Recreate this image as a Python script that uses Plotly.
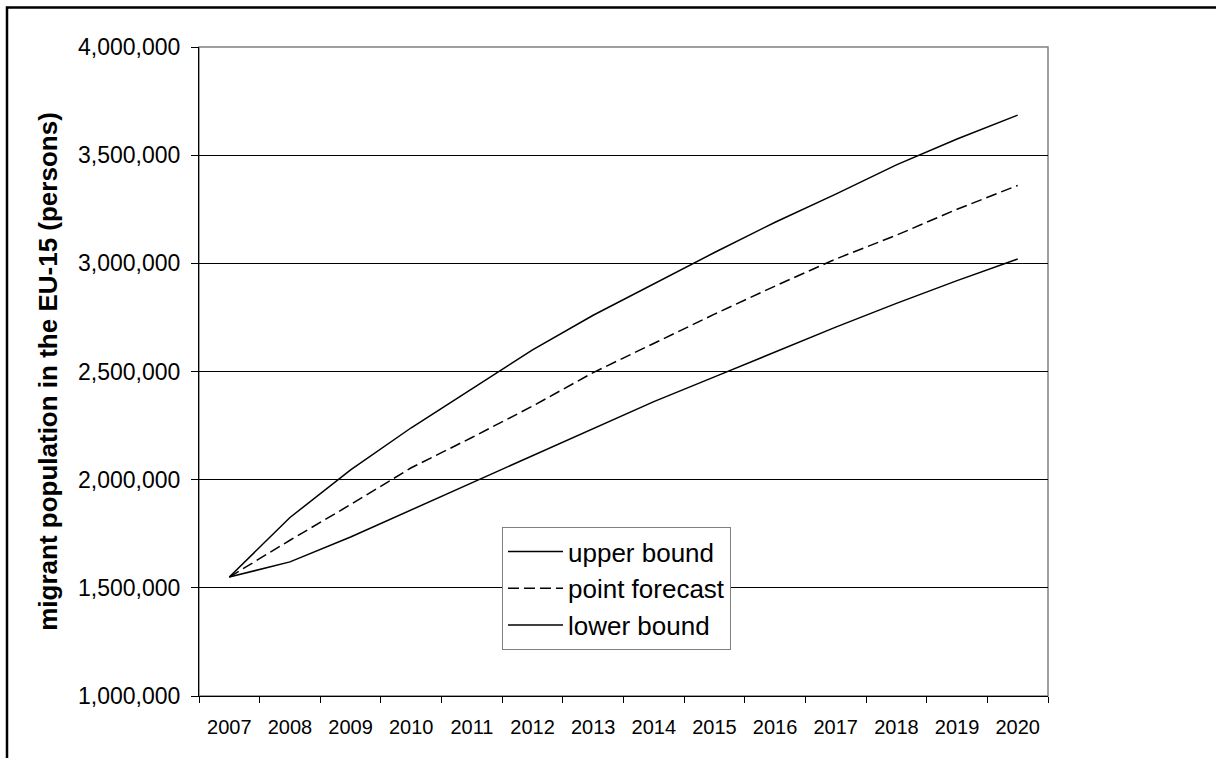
import plotly.graph_objects as go

years = ["2007", "2008", "2009", "2010", "2011", "2012", "2013",
         "2014", "2015", "2016", "2017", "2018", "2019", "2020"]
upper_bound = [1550000, 1825000, 2045000, 2240000, 2420000, 2600000, 2760000,
               2905000, 3050000, 3190000, 3320000, 3455000, 3575000, 3685000]
point_forecast = [1550000, 1720000, 1885000, 2055000, 2195000, 2340000, 2495000,
                  2630000, 2765000, 2895000, 3020000, 3130000, 3250000, 3360000]
lower_bound = [1550000, 1620000, 1735000, 1860000, 1985000, 2112000, 2238000,
               2361000, 2475000, 2590000, 2705000, 2815000, 2920000, 3020000]

FONT = "Liberation Sans, Arial, sans-serif"

fig = go.Figure()
fig.add_trace(go.Scatter(x=years, y=upper_bound, name="upper bound", mode="lines",
                         line=dict(color="black", width=1.5)))
fig.add_trace(go.Scatter(x=years, y=point_forecast, name="point forecast", mode="lines",
                         line=dict(color="black", width=1.5, dash="11px,5px")))
fig.add_trace(go.Scatter(x=years, y=lower_bound, name="lower bound", mode="lines",
                         line=dict(color="black", width=1.5)))

L, R, T, B = 199, 168, 47, 62
W, H = 1216, 758
pw, ph = W - L - R, H - T - B

def px2x(px):
    return (px - L) / pw

def py2y(py):
    return (H - B - py) / ph

fig.update_layout(
    width=W, height=H,
    margin=dict(l=L, r=R, t=T, b=B, pad=0),
    paper_bgcolor="white", plot_bgcolor="white",
    font=dict(family=FONT, color="black"),
    showlegend=True,
    legend=dict(
        x=px2x(502), y=py2y(527), xanchor="left", yanchor="top",
        bordercolor="#808080", borderwidth=1, bgcolor="white",
        font=dict(family=FONT, size=26, color="black"),
        tracegroupgap=0, itemwidth=55,
    ),
    xaxis=dict(
        type="category", range=[-0.5, 13.5],
        tickson="boundaries", ticks="outside", ticklen=6, tickcolor="black",
        showline=True, linecolor="black", linewidth=1,
        showgrid=False, zeroline=False, ticklabelstandoff=13,
        tickfont=dict(family=FONT, size=20, color="black"),
    ),
    yaxis=dict(
        range=[1000000, 4000000], dtick=500000, tickformat=",",
        ticks="outside", ticklen=7, tickcolor="black",
        showline=True, linecolor="black", linewidth=1,
        showgrid=True, gridcolor="black", gridwidth=1, zeroline=False,
        ticklabelstandoff=6,
        tickfont=dict(family=FONT, size=23, color="black"),
        title=dict(text="<b>migrant population in the EU-15 (persons)</b>",
                   font=dict(family=FONT, size=26, color="black"), standoff=12),
    ),
    shapes=[
        dict(type="rect", xref="paper", yref="paper", x0=0, x1=1, y0=0, y1=1,
             line=dict(color="#808080", width=1.5), layer="below"),
        dict(type="rect", xref="paper", yref="paper",
             x0=px2x(7), x1=px2x(1240), y0=py2y(780), y1=py2y(7.5),
             line=dict(color="black", width=2.5)),
    ],
)

fig.write_html("out.html", config={"displayModeBar": False},
               post_script="document.body.style.margin='0';document.body.style.padding='0';")
